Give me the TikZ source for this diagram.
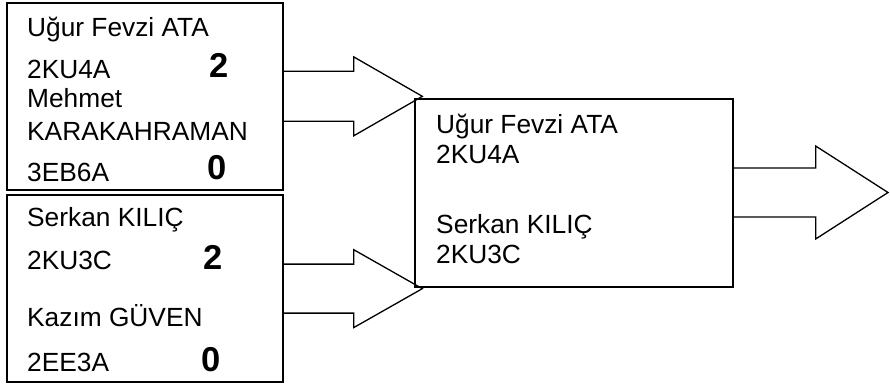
\documentclass[tikz,border=0pt]{standalone}
\usepackage{fontspec}
\setmainfont{Liberation Sans}
\usepackage{tikz}
\usetikzlibrary{calc}
\tikzset{
  panel/.style={draw, line width=1.3pt, inner sep=0pt},
  entrytext/.style={anchor=base west, inner sep=0pt, font=\fontsize{26.3}{30}\selectfont},
  scoretext/.style={anchor=base west, inner sep=0pt, font=\fontsize{34.5}{40}\selectfont\bfseries},
  blockline/.style={line width=1.3pt, line join=miter},
}
\newcommand{\entry}[4]{\node[entrytext] (#3) at (#1,#2) {#4};}
\newcommand{\score}[4]{\node[scoretext] (#3) at (#1,#2) {#4};}
\newcommand{\blockarrow}[5]{%
\draw[blockline] let \p1=(#1.east |- #2), \p2=(#2) in
 (\x1,\y1+#4pt) -- (\x1+#3pt,\y1+#4pt) -- (\x1+#3pt,\y1+#5pt) -- (\p2)
 -- (\x1+#3pt,\y1-#5pt) -- (\x1+#3pt,\y1-#4pt) -- (\x1,\y1-#4pt);}

\begin{document}
\begin{tikzpicture}[x=1pt, y=1pt]
\useasboundingbox (0,0) rectangle (890,385);
% panels
\node[panel, minimum width=276pt, minimum height=187pt] (left1) at (145,288.5) {};
\node[panel, minimum width=276pt, minimum height=187pt] (left2) at (145,96.5) {};
\node[panel, minimum width=318pt, minimum height=188pt] (merge) at (574,192) {};
% first pair
\entry{27}{348}{n1}{Uğur Fevzi ATA}
\entry{27}{306}{c1}{2KU4A}
\score{209}{307}{s1}{2}
\entry{27}{277}{n2}{Mehmet}
\entry{27}{244}{n2b}{KARAKAHRAMAN}
\entry{27}{203}{c2}{3EB6A}
\score{207}{205}{s2}{0}
% second pair
\entry{27}{158}{n3}{Serkan KILIÇ}
\entry{27}{115}{c3}{2KU3C}
\score{203}{115}{s3}{2}
\entry{27}{58}{n4}{Kazım GÜVEN}
\entry{27}{13}{c4}{2EE3A}
\score{201}{13}{s4}{0}
% winners
\entry{436}{251}{w1}{Uğur Fevzi ATA}
\entry{436}{221}{wc1}{2KU4A}
\entry{436}{151}{w2}{Serkan KILIÇ}
\entry{436}{121}{wc2}{2KU3C}
% block arrows
\coordinate (tipA) at ($(merge.north west)+(8,2)$);
\coordinate (tipB) at ($(merge.south west)+(8,-1)$);
\coordinate (tipC) at (888,192.5);
\blockarrow{left1}{tipA}{70}{25}{39.5}
\blockarrow{left2}{tipB}{70}{24.5}{39}
\blockarrow{merge}{tipC}{82}{24.5}{46.5}
\end{tikzpicture}
\end{document}
